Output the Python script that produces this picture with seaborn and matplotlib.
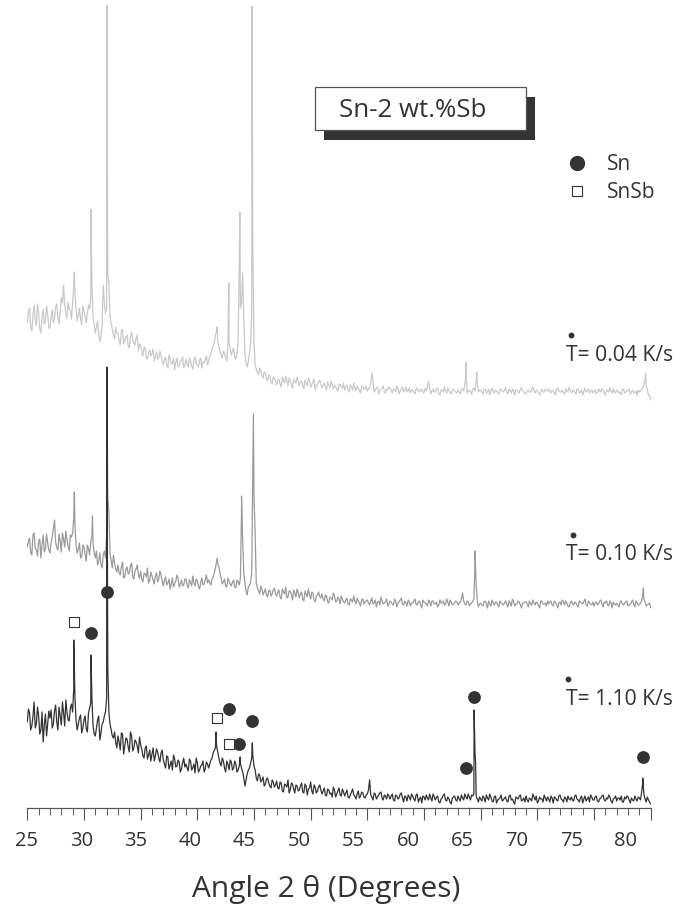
import numpy as np
import pandas as pd
import matplotlib
matplotlib.use("Agg")
import matplotlib.pyplot as plt
import seaborn as sns
from matplotlib.lines import Line2D
from matplotlib.patches import Rectangle
from matplotlib.transforms import ScaledTranslation

# ---------------- data ----------------
# scan grid (2-theta, degrees): 25.0 ... 80.0 in 0.1 steps, stored as two
# interleaved readings: even grid 25.0, 25.2, ... and odd grid 25.1, 25.3, ...
even_start, even_stop = 25.0, 80.0
odd_start, odd_stop = 25.1, 79.9
grid_step = 0.2

rates = ["0.04", "0.10", "1.10"]          # cooling rate, K/s
offsets = [405, 195, 0]                   # vertical stacking offset (a.u.)

# background intensities (a.u.)
bg_004 = [
    80, 95, 72, 98, 78, 90, 70, 94, 82, 88,
    75, 93, 84, 99, 79, 105, 118, 90, 101, 92,
    100, 110, 82, 95, 78, 92, 80, 98, 105, 86,
    70, 82, 61, 78, 100, 95, 120, 80, 68, 76,
    70, 58, 74, 62, 68, 55, 71, 60, 65, 52,
    58, 47, 55, 44, 53, 49, 42, 51, 45, 48,
    38, 46, 35, 44, 40, 33, 45, 37, 42, 35,
    44, 36, 42, 34, 46, 38, 43, 35, 40, 47,
    42, 50, 58, 68, 62, 52, 45, 50, 42, 60,
    48, 55, 44, 62, 95, 130, 50, 36, 50, 90,
    60, 34, 28, 33, 25, 30, 22, 27, 19, 25,
    18, 24, 16, 23, 27, 17, 22, 15, 21, 26,
    17, 22, 14, 20, 25, 16, 21, 13, 19, 23,
    15, 20, 13, 18, 22, 14, 17, 12, 19, 15,
    13, 18, 11, 16, 20, 12, 15, 10, 17, 14,
    12, 16, 30, 11, 15, 9, 14, 17, 10, 13,
    15, 10, 13, 17, 9, 14, 11, 16, 12, 10,
    13, 9, 15, 11, 14, 10, 12, 22, 9, 14,
    11, 15, 8, 13, 16, 10, 12, 9, 14, 11,
    13, 9, 14, 18, 10, 13, 9, 15, 22, 11,
    13, 9, 14, 11, 8, 15, 10, 12, 9, 14,
    11, 15, 9, 12, 14, 8, 13, 10, 15, 11,
    9, 13, 11, 16, 10, 12, 8, 14, 11, 13,
    14, 10, 12, 8, 15, 11, 13, 9, 12, 16,
    10, 13, 9, 14, 11, 8, 15, 12, 10, 13,
    12, 9, 14, 11, 13, 8, 12, 15, 10, 11,
    13, 10, 8, 14, 11, 12, 9, 13, 10, 8,
    11, 14, 18, 16, 8, 3,
]
bg_004_odd = [
    92, 76, 88, 82, 99, 74, 86, 79, 97, 75,
    86, 80, 96, 84, 92, 100, 98, 85, 94, 84,
    118, 95, 88, 84, 97, 86, 90, 94, 120, 78,
    76, 70, 66, 118, 90, 130, 86, 74, 64, 70,
    62, 72, 59, 66, 57, 67, 63, 58, 68, 59,
    52, 56, 45, 50, 47, 54, 46, 44, 52, 41,
    43, 38, 48, 39, 45, 41, 36, 42, 46, 38,
    39, 45, 37, 43, 39, 36, 45, 41, 44, 38,
    47, 54, 60, 72, 56, 48, 52, 45, 60, 55,
    52, 46, 50, 140, 100, 82, 40, 42, 60, 150,
    38, 30, 35, 27, 31, 24, 28, 21, 26, 22,
    23, 19, 26, 20, 22, 25, 18, 24, 20, 22,
    21, 18, 23, 17, 22, 19, 24, 17, 21, 19,
    18, 16, 21, 15, 19, 17, 14, 18, 16, 20,
    16, 14, 18, 13, 15, 17, 12, 16, 14, 17,
    14, 20, 22, 13, 16, 12, 15, 11, 14, 16,
    12, 14, 11, 15, 12, 16, 13, 11, 15, 13,
    11, 14, 12, 13, 11, 15, 16, 14, 12, 11,
    14, 10, 13, 11, 12, 15, 11, 13, 12, 10,
    11, 14, 12, 30, 12, 11, 14, 12, 20, 13,
    11, 13, 10, 14, 12, 11, 13, 10, 13, 12,
    13, 11, 14, 10, 12, 13, 11, 14, 12, 10,
    12, 11, 14, 12, 13, 10, 12, 11, 14, 12,
    11, 13, 10, 14, 12, 11, 10, 14, 11, 13,
    12, 11, 14, 10, 13, 12, 11, 14, 12, 10,
    13, 11, 12, 14, 10, 13, 11, 12, 14, 10,
    12, 11, 13, 10, 12, 14, 11, 10, 12, 13,
    12, 15, 24, 14, 7,
]
bg_010 = [
    66, 75, 58, 80, 63, 72, 55, 78, 64, 70,
    60, 76, 93, 65, 79, 61, 74, 82, 67, 78,
    80, 90, 60, 70, 56, 66, 52, 64, 72, 70,
    55, 48, 60, 45, 62, 80, 100, 52, 58, 44,
    48, 38, 51, 36, 46, 40, 50, 34, 44, 38,
    42, 31, 39, 45, 33, 37, 29, 40, 34, 38,
    27, 36, 30, 24, 35, 29, 38, 26, 33, 28,
    34, 25, 31, 37, 27, 32, 24, 35, 29, 38,
    33, 28, 36, 45, 50, 40, 29, 34, 26, 32,
    27, 33, 25, 31, 35, 73, 30, 18, 28, 40,
    117, 30, 22, 27, 18, 24, 16, 23, 19, 25,
    17, 23, 14, 21, 26, 16, 22, 13, 20, 24,
    15, 21, 12, 19, 24, 14, 20, 11, 18, 16,
    19, 12, 17, 10, 15, 20, 11, 16, 9, 14,
    10, 15, 8, 13, 17, 9, 12, 7, 14, 11,
    13, 8, 15, 10, 6, 12, 16, 9, 11, 7,
    12, 9, 14, 6, 11, 15, 8, 10, 13, 7,
    10, 14, 8, 12, 5, 11, 9, 13, 7, 12,
    9, 6, 13, 10, 8, 14, 7, 11, 9, 12,
    8, 11, 20, 9, 12, 7, 10, 14, 28, 6,
    10, 7, 12, 5, 9, 13, 8, 11, 6, 10,
    8, 12, 6, 10, 14, 7, 9, 11, 5, 10,
    11, 6, 9, 13, 8, 10, 5, 12, 9, 7,
    9, 12, 7, 10, 5, 11, 13, 8, 10, 6,
    12, 8, 10, 6, 11, 9, 14, 7, 10, 8,
    7, 11, 9, 13, 6, 10, 8, 12, 5, 9,
    10, 6, 12, 8, 11, 7, 9, 13, 6, 10,
    8, 12, 14, 7, 9, 5,
]
bg_010_odd = [
    72, 60, 78, 65, 57, 74, 68, 61, 79, 63,
    70, 84, 71, 63, 72, 80, 66, 73, 62, 76,
    95, 68, 64, 55, 68, 59, 68, 58, 75, 60,
    62, 52, 49, 58, 55, 116, 60, 45, 50, 41,
    40, 46, 35, 44, 39, 47, 36, 42, 48, 35,
    34, 40, 36, 30, 41, 33, 37, 31, 42, 32,
    33, 28, 34, 29, 26, 32, 35, 29, 27, 34,
    28, 33, 27, 30, 34, 26, 31, 28, 33, 30,
    30, 34, 40, 52, 46, 35, 31, 27, 35, 29,
    31, 26, 33, 28, 100, 40, 22, 26, 30, 150,
    80, 25, 19, 24, 21, 18, 22, 17, 23, 19,
    21, 16, 24, 19, 15, 22, 18, 23, 16, 20,
    19, 14, 22, 16, 18, 21, 13, 17, 21, 15,
    14, 18, 11, 16, 13, 17, 12, 14, 17, 11,
    13, 9, 14, 11, 12, 15, 10, 13, 9, 12,
    10, 12, 9, 13, 11, 8, 12, 10, 14, 9,
    11, 8, 12, 10, 13, 9, 12, 7, 11, 10,
    12, 9, 11, 8, 13, 10, 7, 11, 12, 9,
    11, 8, 10, 12, 9, 11, 13, 8, 10, 11,
    10, 14, 12, 8, 11, 9, 12, 50, 12, 9,
    8, 11, 9, 12, 7, 10, 11, 8, 12, 9,
    10, 9, 12, 7, 11, 9, 12, 8, 10, 11,
    9, 12, 8, 10, 11, 7, 12, 9, 10, 12,
    11, 8, 12, 9, 10, 8, 11, 12, 7, 10,
    9, 11, 8, 12, 10, 11, 8, 12, 9, 11,
    10, 8, 12, 9, 11, 12, 7, 10, 11, 8,
    8, 11, 9, 10, 12, 8, 11, 9, 12, 8,
    10, 18, 11, 8, 10,
]
bg_110 = [
    86, 95, 82, 106, 84, 92, 78, 66, 94, 84,
    90, 80, 97, 86, 101, 83, 95, 108, 88, 100,
    96, 112, 78, 90, 75, 88, 79, 95, 105, 82,
    72, 88, 68, 84, 92, 110, 95, 78, 70, 66,
    72, 58, 74, 62, 69, 56, 72, 60, 66, 55,
    63, 52, 60, 49, 58, 54, 47, 59, 50, 55,
    48, 40, 51, 43, 38, 49, 42, 46, 39, 50,
    44, 37, 47, 40, 35, 45, 38, 43, 36, 46,
    40, 48, 55, 60, 56, 45, 50, 40, 47, 38,
    46, 40, 44, 38, 45, 36, 22, 34, 40, 50,
    42, 30, 34, 26, 31, 24, 30, 22, 28, 21,
    27, 19, 25, 16, 23, 28, 18, 24, 15, 22,
    18, 25, 15, 22, 19, 26, 14, 21, 17, 23,
    14, 20, 12, 18, 15, 21, 11, 17, 13, 19,
    12, 18, 10, 16, 13, 9, 17, 12, 15, 10,
    14, 28, 11, 15, 9, 13, 16, 8, 12, 14,
    9, 14, 7, 12, 10, 15, 6, 11, 13, 8,
    12, 7, 14, 9, 5, 11, 13, 8, 10, 14,
    8, 12, 5, 10, 14, 7, 9, 4, 11, 8,
    12, 7, 10, 14, 9, 11, 13, 14, 12, 6,
    9, 12, 6, 10, 14, 7, 11, 5, 9, 13,
    8, 11, 6, 13, 9, 4, 10, 12, 7, 10,
    12, 6, 9, 14, 8, 5, 11, 9, 13, 7,
    9, 12, 5, 10, 7, 13, 8, 11, 6, 9,
    11, 7, 13, 8, 10, 5, 12, 9, 6, 11,
    8, 12, 6, 10, 13, 7, 9, 11, 5, 10,
    7, 10, 12, 6, 9, 11, 5, 8, 12, 7,
    10, 16, 14, 6, 8, 4,
]
bg_110_odd = [
    99, 78, 92, 80, 101, 74, 96, 83, 72, 97,
    98, 84, 103, 78, 92, 106, 82, 96, 87, 104,
    120, 88, 84, 93, 80, 92, 76, 100, 110, 74,
    80, 92, 75, 86, 96, 140, 84, 72, 76, 60,
    66, 75, 54, 70, 61, 76, 57, 68, 62, 71,
    59, 50, 62, 53, 47, 60, 52, 56, 46, 58,
    44, 52, 39, 47, 53, 41, 48, 36, 45, 41,
    40, 49, 38, 44, 50, 36, 42, 47, 39, 44,
    44, 50, 58, 62, 50, 42, 47, 36, 44, 48,
    38, 47, 36, 42, 40, 30, 28, 38, 45, 52,
    38, 27, 33, 28, 22, 29, 25, 20, 26, 23,
    20, 26, 17, 24, 21, 15, 25, 19, 23, 17,
    22, 16, 24, 13, 20, 17, 23, 15, 21, 18,
    17, 13, 19, 14, 11, 18, 14, 20, 12, 16,
    15, 11, 13, 19, 12, 14, 10, 16, 11, 13,
    18, 13, 8, 14, 11, 15, 10, 13, 9, 12,
    12, 8, 13, 9, 14, 10, 12, 7, 11, 14,
    9, 13, 6, 11, 12, 8, 10, 14, 7, 11,
    11, 6, 9, 13, 8, 11, 6, 10, 12, 7,
    9, 13, 8, 11, 14, 8, 12, 55, 9, 11,
    7, 10, 13, 8, 11, 6, 12, 8, 10, 7,
    10, 7, 12, 8, 6, 11, 9, 13, 8, 6,
    8, 10, 7, 11, 12, 7, 9, 6, 10, 11,
    6, 10, 11, 8, 12, 9, 6, 10, 12, 8,
    8, 12, 9, 6, 12, 9, 7, 11, 13, 8,
    11, 7, 9, 12, 8, 10, 13, 7, 9, 12,
    10, 8, 6, 11, 12, 8, 10, 7, 9, 11,
    8, 25, 9, 11, 6,
]

# diffraction peak apexes (angle, intensity a.u.)
pk_ang_004 = [29.15, 30.62, 32.02, 41.75, 42.78, 43.75, 44.82, 63.70, 64.65, 79.55]
pk_int_004 = [131, 194, 398, 76, 120, 191, 397, 41, 31, 30]
pk_ang_010 = [29.15, 30.75, 32.05, 41.75, 43.90, 44.95, 64.50, 79.35]
pk_int_010 = [121, 97, 203, 55, 117, 199, 62, 25]
pk_ang_110 = [29.10, 30.62, 32.02, 41.65, 43.78, 44.85, 64.42, 64.55, 79.30]
pk_int_110 = [168, 153, 441, 76, 51, 65, 98, 46, 30]

# phase identification markers on the 1.10 K/s pattern
sn_ang = [30.62, 32.00, 42.82, 44.80, 43.70, 64.43, 63.67, 79.29]
sn_int = [175, 216, 99, 87, 64, 111, 40, 51]
snsb_ang = [29.09, 41.71, 42.79]
snsb_int = [186, 90, 64]

tick_values = [25, 30, 35, 40, 45, 50, 55, 60, 65, 70, 75, 80]

# ---------------- build table ----------------
grid_even = np.round(np.arange(even_start, even_stop + 1e-9, grid_step), 2)
grid_odd = np.round(np.arange(odd_start, odd_stop + 1e-9, grid_step), 2)
frames = []
for rate, off, bg, bg_odd, pa, pi in [
    (rates[0], offsets[0], bg_004, bg_004_odd, pk_ang_004, pk_int_004),
    (rates[1], offsets[1], bg_010, bg_010_odd, pk_ang_010, pk_int_010),
    (rates[2], offsets[2], bg_110, bg_110_odd, pk_ang_110, pk_int_110),
]:
    a = np.concatenate([grid_even, grid_odd, np.array(pa, float)])
    v = np.concatenate([np.array(bg, float), np.array(bg_odd, float), np.array(pi, float)])
    order = np.argsort(a, kind="stable")
    frames.append(pd.DataFrame({"angle": a[order], "intensity": v[order],
                                "shifted": v[order] + off, "rate": rate}))
df = pd.concat(frames, ignore_index=True)

markers = pd.DataFrame({
    "angle": sn_ang + snsb_ang,
    "intensity": sn_int + snsb_int,
    "phase": ["Sn"] * len(sn_ang) + ["SnSb"] * len(snsb_ang),
})

# ---------------- plot ----------------
sns.set_theme(style="white")
plt.rcParams["font.family"] = ["Open Sans", "DejaVu Sans"]

W, H = 684, 905
fig = plt.figure(figsize=(W / 100, H / 100), dpi=100)
ax_l, ax_r, ax_b, ax_t = 27.3, 650.7, 808.0, 0.0
ax = fig.add_axes([ax_l / W, 1 - ax_b / H, (ax_r - ax_l) / W, (ax_b - ax_t) / H])

dark = "#333333"
palette = {"0.04": "#c9c9cb", "0.10": "#9b9b9d", "1.10": dark}
sns.lineplot(data=df, x="angle", y="shifted", hue="rate", palette=palette,
             hue_order=rates, sort=False, estimator=None, legend=False,
             linewidth=0.9, ax=ax)

sn = markers[markers.phase == "Sn"]
snsb = markers[markers.phase == "SnSb"]
sns.scatterplot(data=sn, x="angle", y="intensity", marker="o", s=85,
                color=dark, edgecolor=dark, linewidth=0, zorder=5, ax=ax, legend=False)
sns.scatterplot(data=snsb, x="angle", y="intensity", marker="s", s=62,
                facecolor="white", edgecolor=dark, linewidth=0.8, zorder=5, ax=ax,
                legend=False)

ax.set_xlim(25, 80)
ax.set_ylim(0, 808)
ax.set_xticks(tick_values)
ax.set_xticks(np.arange(25, 81, 1), minor=True)
ax.set_xticklabels([str(t) for t in tick_values])
ax.set_yticks([])
ax.set_ylabel("")
sns.despine(ax=ax, left=True, top=True, right=True)
ax.spines["bottom"].set_color("#555555")
ax.spines["bottom"].set_linewidth(0.9)
ax.tick_params(axis="x", which="major", direction="out", length=8.6, width=0.8,
               color="#555555", labelsize=14.5, labelcolor="#333333", pad=8.0,
               bottom=True)
ax.tick_params(axis="x", which="minor", direction="out", length=5.0, width=0.7,
               color="#555555", bottom=True)

ax.set_xlabel("Angle 2 θ (Degrees)", fontsize=21.5, color="#333333")
ax.xaxis.label.set_verticalalignment("baseline")
ax.xaxis.set_label_coords((326.5 - ax_l) / (ax_r - ax_l), (808 - 896.7) / 808)

def fx(px):
    return px / W

def fy(py):
    return 1 - py / H

# title box with shadow
bx0, by0, bx1, by1 = 315, 87.3, 525.7, 130.0
fig.add_artist(Rectangle((fx(bx0 + 9), fy(by1 + 10)), fx(bx1 - bx0), (by1 - by0) / H,
                         transform=fig.transFigure, facecolor=dark, edgecolor="none",
                         zorder=3))
fig.add_artist(Rectangle((fx(bx0), fy(by1)), fx(bx1 - bx0), (by1 - by0) / H,
                         transform=fig.transFigure, facecolor="white",
                         edgecolor="#555555", linewidth=0.9, zorder=4))
fig.text(fx(339), fy(117.3), "Sn-2 wt.%Sb", fontsize=18.6, color="#333333",
         va="baseline", ha="left", zorder=5)

# phase legend
fig.add_artist(Line2D([fx(576.7)], [fy(162.7)], marker="o", markersize=10,
                      color=dark, linestyle="none", transform=fig.transFigure))
fig.add_artist(Line2D([fx(576.5)], [fy(190.7)], marker="s", markersize=7.6,
                      markerfacecolor="white", markeredgecolor=dark,
                      markeredgewidth=0.8, linestyle="none", transform=fig.transFigure))
fig.text(fx(607), fy(170), "Sn", fontsize=15, color="#333333", va="baseline")
fig.text(fx(607), fy(198), "SnSb", fontsize=15, color="#333333", va="baseline")

# cooling-rate labels (T with an over-dot)
for rate, base, dotx in zip(rates, [361.0, 560.5, 705.0], [570.7, 573.3, 568.3]):
    fig.text(fx(566), fy(base), f"T= {rate} K/s", fontsize=15.2, color="#333333",
             va="baseline", ha="left")
    fig.add_artist(Line2D([fx(dotx)], [fy(base - 26)], marker="o", markersize=3.2,
                          color=dark, linestyle="none", transform=fig.transFigure))

# tick labels in the original are laid out with a slightly tighter spacing
fig.canvas.draw()
for k, lab in enumerate(ax.get_xticklabels()):
    dx = -0.6 - 2.2 * k
    lab.set_transform(lab.get_transform() + ScaledTranslation(dx / 100, 0, fig.dpi_scale_trans))

fig.savefig("out.png", dpi=100, facecolor="white")
